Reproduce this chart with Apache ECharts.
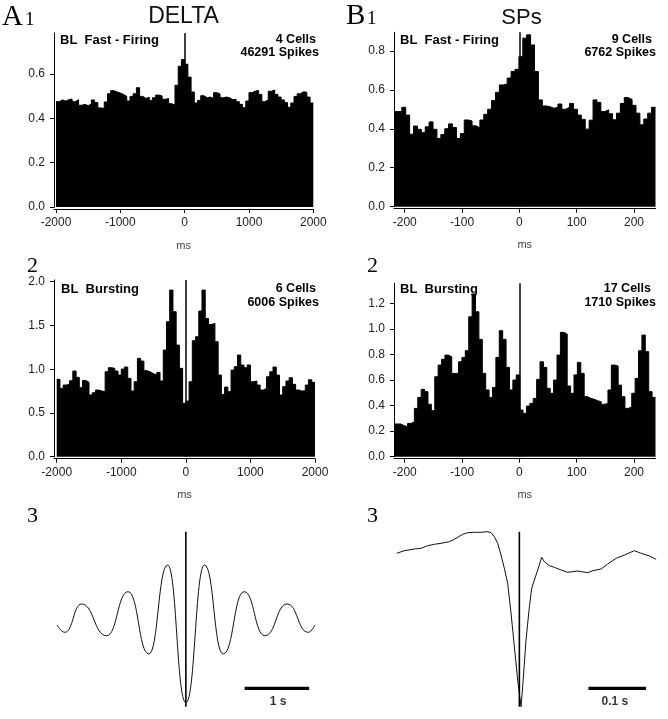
<!DOCTYPE html>
<html><head><meta charset="utf-8">
<script src="https://cdn.jsdelivr.net/npm/echarts@6/dist/echarts.min.js"></script>
<style>html,body{margin:0;padding:0;background:#fff}#c{width:668px;height:719px}</style>
</head><body><div id="c"></div>
<script>
// ---- data ----
const a1Values = [0.475,0.483,0.478,0.484,0.487,0.475,0.484,0.459,0.463,0.457,0.465,0.483,0.471,0.447,0.445,0.474,0.511,0.525,0.519,0.514,0.508,0.499,0.478,0.499,0.511,0.538,0.499,0.49,0.495,0.481,0.493,0.505,0.501,0.486,0.489,0.466,0.46,0.549,0.635,0.665,0.644,0.586,0.519,0.469,0.481,0.502,0.493,0.496,0.489,0.516,0.511,0.493,0.496,0.493,0.484,0.486,0.475,0.463,0.448,0.478,0.516,0.523,0.526,0.508,0.475,0.484,0.522,0.528,0.508,0.496,0.483,0.471,0.45,0.469,0.499,0.511,0.52,0.517,0.496,0.469];
const a2Values = [0.884,0.781,0.819,0.83,0.869,0.979,0.907,0.789,0.872,0.85,0.705,0.731,0.762,0.75,0.743,0.971,1.017,1.01,0.979,0.933,1.002,1.025,0.895,0.75,0.857,1.124,1.093,0.983,0.968,0.949,0.933,0.964,0.865,1.219,1.543,1.905,1.657,1.276,1.01,0.61,0.636,0.857,1.326,1.371,1.665,1.905,1.581,1.512,1.524,1.314,0.933,0.712,0.796,0.743,0.99,1.029,1.162,1.048,1.017,1.048,0.857,0.865,0.819,0.762,0.781,0.914,0.971,1.025,0.933,0.705,0.8,0.865,0.903,0.827,0.762,0.75,0.754,0.819,0.88,0.85];
const b1Values = [0.488,0.488,0.51,0.47,0.372,0.414,0.397,0.38,0.41,0.435,0.397,0.35,0.37,0.40,0.425,0.406,0.35,0.375,0.445,0.44,0.415,0.405,0.445,0.474,0.5,0.545,0.587,0.625,0.63,0.66,0.694,0.705,0.77,0.865,0.882,0.83,0.694,0.548,0.517,0.513,0.505,0.51,0.527,0.5,0.51,0.53,0.5,0.47,0.448,0.398,0.444,0.548,0.535,0.488,0.497,0.477,0.446,0.48,0.53,0.56,0.55,0.52,0.48,0.42,0.45,0.48,0.51];
const b2Values = [0.256,0.256,0.243,0.235,0.26,0.274,0.378,0.464,0.527,0.509,0.41,0.36,0.626,0.717,0.762,0.795,0.782,0.652,0.652,0.743,0.777,0.83,1.095,1.273,1.134,0.918,0.652,0.522,0.464,0.542,0.777,0.986,0.918,0.699,0.522,0.6,0.64,0.365,0.339,0.396,0.417,0.456,0.605,0.743,0.699,0.535,0.496,0.6,0.795,0.973,0.96,0.553,0.496,0.64,0.738,0.652,0.47,0.456,0.449,0.438,0.43,0.41,0.417,0.522,0.717,0.709,0.56,0.47,0.378,0.391,0.496,0.613,0.829,0.952,0.822,0.509,0.464];

const aBinStart = -2000, aBinEnd = 2000;
const bBinStart = -218.7, bBinEnd = 237.5;

const aXTicks = [-2000, -1000, 0, 1000, 2000];
const bXTicks = [-200, -100, 0, 100, 200];
const a1YTicks = [0, 0.2, 0.4, 0.6];
const a2YTicks = [0, 0.5, 1.0, 1.5, 2.0];
const b1YTicks = [0, 0.2, 0.4, 0.6, 0.8];
const b2YTicks = [0, 0.2, 0.4, 0.6, 0.8, 1.0, 1.2];

// averaged waveforms (time in ms, amplitude in arbitrary units)
const a3Time = [-1993,-1874,-1615,-1228,-894,-573,-283,0,290,578,903,1223,1569,1894,1998];
const a3Amp  = [85,77.7,106,74.3,118.3,56,145,7.3,145,56,118.3,74.3,106,77.7,85];
const b3Time = [-214.1,-200.7,-183.2,-171.6,-160,-148.3,-136.7,-122.2,-113.4,-98.9,-90.2,-78.5,-66.9,-55.3,-49.4,-43.6,-37.8,-32,-26.2,-20.4,-14.5,-8.7,-2.9,2.9,5.8,11.6,17.5,21.5,26.2,32,39,43.6,52.4,61.1,72.7,84.3,101.7,119.2,128,142.6,154.1,168.8,183.2,200.7,212.4,226.9,238.6];
const b3Amp  = [156.7,159.3,161,161.7,164.3,165.7,166.7,168.3,170.7,175.7,177.3,177.7,177.7,178.3,177.3,173.3,166.7,155,141.7,126.7,96.7,63.3,30,3.3,23.3,70,103.3,121.7,130,140,152.7,148.3,144.3,142.7,140,137.7,139,137.3,139.3,141,146,151.7,155,159.3,156.7,154,150.7];

// scale bars: [start ms, end ms]
const aScaleBar = [910, 1910];   // 1 s
const bScaleBar = [120.5, 221];  // 0.1 s

// ---- build ----
function steps(values, start, end) {
  const w = (end - start) / values.length;
  const pts = values.map((v, i) => [start + i * w, v]);
  pts.push([end, values[values.length - 1]]);
  return pts;
}
function zip(xs, ys) { return xs.map((x, i) => [x, ys[i]]); }

const FONT = 'Liberation Sans';
function histX(gi, min, max, ticks) {
  return {
    type: 'value', gridIndex: gi, min: min, max: max, offset: 2,
    axisLine: { show: true, onZero: false, lineStyle: { color: '#000', width: 1 } },
    axisTick: { show: true, length: 4, customValues: ticks, lineStyle: { color: '#000' } },
    axisLabel: { customValues: ticks, margin: 8, color: '#222', fontSize: 12, fontFamily: FONT,
      formatter: v => String(Math.round(v)) },
    splitLine: { show: false },
    name: 'ms', nameLocation: 'middle', nameGap: 31,
    nameTextStyle: { color: '#444', fontSize: 11, fontFamily: FONT }
  };
}
function histY(gi, max, ticks) {
  return {
    type: 'value', gridIndex: gi, min: 0, max: max,
    axisLine: { show: true, onZero: false, lineStyle: { color: '#000', width: 1 } },
    axisTick: { show: true, length: 4, customValues: ticks, lineStyle: { color: '#000' } },
    axisLabel: { customValues: ticks, margin: 9, color: '#222', fontSize: 12, fontFamily: FONT,
      formatter: v => Number(v).toFixed(1) },
    splitLine: { show: false }
  };
}
function hiddenAxis(gi, min, max) {
  return { type: 'value', gridIndex: gi, min: min, max: max, show: false,
    axisLine: { onZero: false }, splitLine: { show: false } };
}
function histSeries(gi, values, start, end) {
  return {
    type: 'line', xAxisIndex: gi, yAxisIndex: gi, step: 'end', symbol: 'none',
    data: steps(values, start, end),
    lineStyle: { color: '#000', width: 1 },
    areaStyle: { color: '#000', opacity: 1 },
    silent: true,
    markLine: { silent: true, symbol: 'none', label: { show: false },
      lineStyle: { color: '#000', width: 1.5, type: 'solid' }, data: [{ xAxis: 0 }] }
  };
}
function waveSeries(gi, xs, ys, smooth) {
  return {
    type: 'line', xAxisIndex: gi, yAxisIndex: gi, symbol: 'none', clip: false,
    smooth: smooth ? 0.5 : false, smoothMonotone: smooth ? 'x' : undefined,
    data: zip(xs, ys), lineStyle: { color: '#111', width: 1 }, silent: true
  };
}
function vLine(gi) {
  return { type: 'line', xAxisIndex: gi, yAxisIndex: gi, symbol: 'none', clip: false,
    data: [[0, 3.3], [0, 178.3]], lineStyle: { color: '#000', width: 1.6 }, silent: true };
}
function scaleBar(gi, bar, label, shift) {
  return [
    { type: 'line', xAxisIndex: gi, yAxisIndex: gi, symbol: 'none', clip: false,
      data: [[bar[0], 21.7], [bar[1], 21.7]], lineStyle: { color: '#000', width: 3.3 }, silent: true },
    { type: 'scatter', xAxisIndex: gi, yAxisIndex: gi, symbolSize: 1, clip: false,
      itemStyle: { color: 'rgba(0,0,0,0)' }, silent: true,
      data: [[(bar[0] + bar[1]) / 2 + shift, 8.7]],
      label: { show: true, position: 'inside', formatter: label, color: '#000',
        fontSize: 12, fontWeight: 'bold', fontFamily: FONT } }
  ];
}

function txt(x, y, text, font, align, color) {
  return { type: 'text', x: x, y: y, silent: true,
    style: { text: text, font: font, fill: color || '#000', textAlign: align || 'left', textVerticalAlign: 'middle' } };
}
const boldF = 'bold 12.5px "Liberation Sans"';
const blF = 'bold 13px "Liberation Sans"';
const serifBig = '29px "Liberation Serif"';
const serifSmall = '19px "Liberation Serif"';
const serifNum = '22px "Liberation Serif"';

const option = {
  backgroundColor: '#fff',
  animation: false,
  grid: [
    { left: 54, top: 33, width: 259.3, height: 174 },     // A1
    { left: 394, top: 32.3, width: 261.5, height: 174.4 }, // B1
    { left: 54, top: 280, width: 261, height: 176.7 },    // A2
    { left: 394, top: 283.3, width: 261.5, height: 173.4 },// B2
    { left: 54, top: 530, width: 261, height: 180 },      // A3
    { left: 394, top: 530, width: 261.5, height: 180 }    // B3
  ],
  xAxis: [
    histX(0, -2031, 2000, aXTicks),
    histX(1, bBinStart, bBinEnd, bXTicks),
    histX(2, -2042, 2000, aXTicks),
    histX(3, bBinStart, bBinEnd, bXTicks),
    hiddenAxis(4, -2042, 2000),
    hiddenAxis(5, bBinStart, bBinEnd)
  ],
  yAxis: [
    histY(0, 0.785, a1YTicks),
    histY(1, 0.895, b1YTicks),
    histY(2, 2.02, a2YTicks),
    histY(3, 1.357, b2YTicks),
    hiddenAxis(4, 0, 180),
    hiddenAxis(5, 0, 180)
  ],
  series: [
    histSeries(0, a1Values, aBinStart, aBinEnd),
    histSeries(1, b1Values, bBinStart, bBinEnd),
    histSeries(2, a2Values, aBinStart, aBinEnd),
    histSeries(3, b2Values, bBinStart, bBinEnd),
    waveSeries(4, a3Time, a3Amp, true),
    vLine(4),
    waveSeries(5, b3Time, b3Amp, false),
    vLine(5)
  ].concat(scaleBar(4, aScaleBar, '1 s', 20), scaleBar(5, bScaleBar, '0.1 s', -4)),
  graphic: [
    txt(2, 17, 'A', serifBig), txt(25, 20.5, '1', serifSmall),
    txt(346, 16, 'B', serifBig), txt(367, 19, '1', serifSmall),
    txt(183.5, 17, 'DELTA', '23px "Liberation Sans"', 'center', '#111'),
    txt(521.5, 18, 'SPs', '22px "Liberation Sans"', 'center', '#111'),
    txt(27, 266, '2', serifNum), txt(367, 266, '2', serifNum),
    txt(27, 516, '3', serifNum), txt(367, 516, '3', serifNum),
    // A1
    txt(60, 40, 'BL  Fast - Firing', blF),
    txt(316, 40, '4 Cells', boldF, 'right'),
    txt(319, 53, '46291 Spikes', boldF, 'right'),
    // B1
    txt(400, 40, 'BL  Fast - Firing', blF),
    txt(652, 40, '9 Cells', boldF, 'right'),
    txt(656, 53, '6762 Spikes', boldF, 'right'),
    // A2
    txt(61, 289, 'BL  Bursting', blF),
    txt(316, 289, '6 Cells', boldF, 'right'),
    txt(319, 302.7, '6006 Spikes', boldF, 'right'),
    // B2
    txt(400, 289, 'BL  Bursting', blF),
    txt(651, 288.5, '17 Cells', boldF, 'right'),
    txt(656, 302.7, '1710 Spikes', boldF, 'right')
  ]
};

const chart = echarts.init(document.getElementById('c'), null, { renderer: 'canvas' });
chart.setOption(option);
</script>
</body></html>
